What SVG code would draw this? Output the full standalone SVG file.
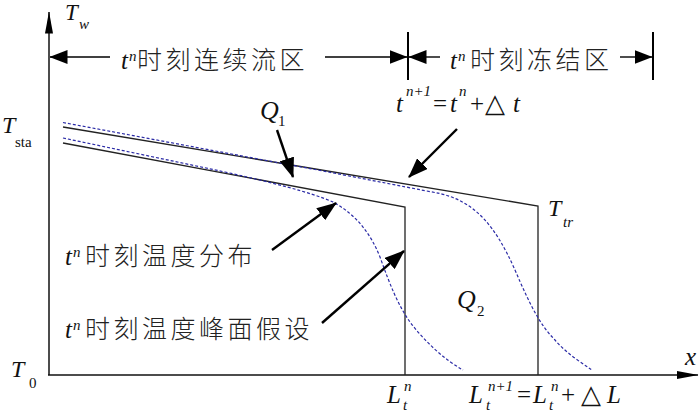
<svg xmlns="http://www.w3.org/2000/svg" width="700" height="414" viewBox="0 0 700 414">
<defs>
<style>
.ax{stroke:#111;stroke-width:1.5;fill:none}
.sol{stroke:#222;stroke-width:1.3;fill:none}
.dsh{stroke:#2b2ba6;stroke-width:1.2;fill:none;stroke-dasharray:3 2}
.arr{stroke:#000;stroke-width:2.4;fill:none}
.dim{stroke:#000;stroke-width:1.4;fill:none}
.tk{stroke:#000;stroke-width:2;fill:none}
.it{font-family:"Liberation Serif",serif;font-style:italic;font-size:25px;fill:#111}
.up{font-family:"Liberation Serif",serif;font-size:25px;fill:#111}
.sub{font-family:"Liberation Serif",serif;font-style:italic;font-size:15px;fill:#111}
.subu{font-family:"Liberation Serif",serif;font-size:15px;fill:#111}
.tri{font-family:"DejaVu Sans",sans-serif;font-size:26px;fill:#111}
.cjk{font-family:"Noto Sans CJK SC","Noto Sans CJK JP",sans-serif;font-size:25px;font-weight:300;letter-spacing:3.5px;fill:#222}
</style>
<marker id="ah" viewBox="0 0 20 15" refX="19" refY="7.5" markerWidth="20" markerHeight="15" orient="auto" markerUnits="userSpaceOnUse"><path d="M0,0 L20,7.5 L0,15 z" fill="#000"/></marker>
<marker id="dh" viewBox="0 0 18 14" refX="17.5" refY="7" markerWidth="18" markerHeight="14" orient="auto" markerUnits="userSpaceOnUse"><path d="M0,0 L18,7 L0,14 z" fill="#000"/></marker>
<marker id="xh" viewBox="0 0 22 8" refX="21.5" refY="4" markerWidth="22" markerHeight="8" orient="auto" markerUnits="userSpaceOnUse"><path d="M0,0 L22,4 L0,8 z" fill="#000"/></marker>
</defs>
<rect width="700" height="414" fill="#fff"/>

<g id="axes">
<line class="ax" x1="49" y1="375" x2="49" y2="12" marker-end="url(#xh)"/>
<line class="ax" x1="48" y1="375" x2="698" y2="375" marker-end="url(#xh)"/>
</g>

<g id="profiles">
<polyline class="sol" points="63,127 538,206 538,375"/>
<polyline class="sol" points="63,143 405,207 405,375"/>
<path class="dsh" d="M63,122.5 L285,164 C330,172 400,186 440,193.5 C475,202 495,225 515,270 C530,305 540,325 555,340 C565,352 580,362 592,370"/>
<path class="dsh" d="M63,138 L225,172 C270,182 310,192 333,202 C355,214 370,232 380,257 C390,285 398,305 410,322 C425,342 445,360 463,370"/>
</g>

<g id="dimension">
<line class="tk" x1="408" y1="32" x2="408" y2="80"/>
<line class="tk" x1="653" y1="32" x2="653" y2="80"/>
<line class="dim" x1="110" y1="57" x2="50" y2="57" marker-end="url(#dh)"/>
<line class="dim" x1="325" y1="57" x2="407" y2="57" marker-end="url(#dh)"/>
<line class="dim" x1="440" y1="57" x2="409" y2="57" marker-end="url(#dh)"/>
<line class="dim" x1="620" y1="57" x2="652" y2="57" marker-end="url(#dh)"/>
</g>

<g id="connectors">
<line class="arr" x1="277" y1="130" x2="293" y2="177" marker-end="url(#ah)"/>
<line class="arr" x1="457" y1="129" x2="409" y2="177" marker-end="url(#ah)"/>
<line class="arr" x1="272" y1="250" x2="336" y2="203" marker-end="url(#ah)"/>
<line class="arr" x1="322" y1="323" x2="404" y2="251" marker-end="url(#ah)"/>
</g>

<g id="label-Tw"><text class="it" x="65" y="20" style="font-size:23px">T</text><text class="sub" x="79" y="29">w</text></g>
<g id="label-Tsta"><text class="it" x="2" y="133" style="font-size:24px">T</text><text class="subu" x="15" y="147">sta</text></g>
<g id="label-T0"><text class="it" x="11" y="377" style="font-size:24px">T</text><text class="subu" x="29" y="388">0</text></g>
<g id="label-x"><text class="it" x="685" y="365">x</text></g>

<g id="label-zone1"><text class="it" x="121" y="69">t</text><text class="sub" x="129" y="61">n</text><text class="cjk" x="137" y="69">时刻连续流区</text></g>
<g id="label-zone2"><text class="it" x="450" y="69">t</text><text class="sub" x="458" y="61">n</text><text class="cjk" x="470" y="69">时刻冻结区</text></g>

<g id="label-Q1"><text class="it" x="260" y="119" style="font-size:26px">Q</text><text class="subu" x="278" y="126">1</text></g>
<g id="label-Q2"><text class="it" x="457" y="308" style="font-size:26px">Q</text><text class="subu" x="477" y="316">2</text></g>

<g id="label-tn1"><text class="it" x="396" y="112">t</text><text class="sub" x="406" y="96">n+1</text><text class="up" x="433" y="112">=</text><text class="it" x="450" y="112">t</text><text class="sub" x="459" y="96">n</text><text class="up" x="470" y="112">+</text><text class="tri" x="485" y="112">△</text><text class="it" x="513" y="112">t</text></g>

<g id="label-Ttr"><text class="it" x="548" y="216" style="font-size:24px">T</text><text class="sub" x="563" y="227">tr</text></g>

<g id="label-dist"><text class="it" x="65" y="265">t</text><text class="sub" x="73" y="257">n</text><text class="cjk" x="85" y="265">时刻温度分布</text></g>
<g id="label-peak"><text class="it" x="65" y="338">t</text><text class="sub" x="73" y="330">n</text><text class="cjk" x="85" y="338">时刻温度峰面假设</text></g>

<g id="label-Ltn"><text class="it" x="387" y="403">L</text><text class="sub" x="403" y="410">t</text><text class="sub" x="404" y="391">n</text></g>
<g id="label-Ltn1"><text class="it" x="469" y="403">L</text><text class="sub" x="486" y="410">t</text><text class="sub" x="488" y="391">n+1</text><text class="up" x="517" y="403">=</text><text class="it" x="533" y="403">L</text><text class="sub" x="549" y="410">t</text><text class="sub" x="551" y="391">n</text><text class="up" x="561" y="403">+</text><text class="tri" x="581" y="403">△</text><text class="it" x="607" y="403">L</text></g>
</svg>
